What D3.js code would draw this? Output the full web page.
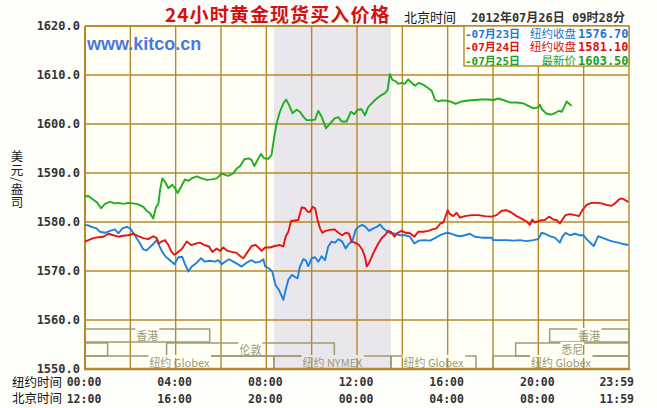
<!DOCTYPE html>
<html><head><meta charset="utf-8">
<script src="https://cdnjs.cloudflare.com/ajax/libs/d3/7.8.5/d3.min.js"></script>
<style>
html,body{margin:0;padding:0;background:#fdfdfa;}
svg{display:block;}
</style></head>
<body>
<svg id="c" width="657" height="408"></svg>
<script>
// ---------------- data ----------------
const titleText = "24小时黄金现货买入价格";
const stampLabel = "北京时间";
const stampText = "2012年07月26日 09时28分";
const yTitleText = "美元/盎司";
const yTicks = [1550, 1560, 1570, 1580, 1590, 1600, 1610, 1620];
const hourTicks = [0, 4, 8, 12, 16, 20, 24];
const nyLabels = ["00:00", "04:00", "08:00", "12:00", "16:00", "20:00", "23:59"];
const bjLabels = ["12:00", "16:00", "20:00", "00:00", "04:00", "08:00", "11:59"];
const legendDates = ["-07月23日", "-07月24日", "-07月25日"];
const legendKinds = ["纽约收盘", "纽约收盘", "最新价"];
const legendValues = ["1576.70", "1581.10", "1603.50"];
const nymexHours = [8.333, 13.5];
// sessions: [row, start hour, end hour, label]
const sessions = [
  [0, 0, 5.5, "香港"], [0, 20.5, 24, "香港"],
  [1, 0, 1, ""], [1, 3.6, 11, "伦敦"], [1, 19, 24, "悉尼"],
  [2, 0, 8.333, "纽约 Globex"], [2, 8.333, 13.5, "纽约 NYMEX"],
  [2, 13.5, 17.25, "纽约 Globex"], [2, 18, 24, "纽约 Globex"]
];

const blue = [[0,1579.4],[0.15,1579.3],[0.29,1579.0],[0.51,1578.7],[0.66,1578.0],[0.88,1577.8],[1.10,1578.2],[1.32,1578.5],[1.47,1577.7],[1.65,1578.7],[1.84,1579.0],[1.99,1578.7],[2.13,1577.8],[2.28,1576.7],[2.43,1575.6],[2.57,1574.4],[2.72,1574.2],[2.87,1574.9],[3.01,1575.5],[3.16,1576.3],[3.26,1575.3],[3.41,1573.9],[3.56,1572.9],[3.75,1572.2],[3.94,1571.4],[4.12,1572.8],[4.29,1572.9],[4.41,1571.4],[4.56,1569.9],[4.71,1570.9],[4.93,1571.7],[5.12,1572.6],[5.29,1571.9],[5.51,1572.1],[5.74,1571.9],[5.88,1572.2],[6.03,1571.4],[6.18,1571.9],[6.35,1572.4],[6.54,1571.9],[6.74,1571.4],[6.91,1570.9],[7.13,1571.7],[7.35,1572.2],[7.53,1571.7],[7.72,1571.9],[7.87,1572.4],[7.94,1571.0],
[8.12,1570.5],[8.26,1569.9],[8.41,1567.1],[8.56,1566.1],[8.75,1564.1],[8.85,1566.1],[8.97,1568.2],[9.12,1569.2],[9.26,1568.8],[9.38,1568.5],[9.48,1570.9],[9.63,1572.4],[9.73,1572.2],[9.85,1571.0],[10.0,1572.6],[10.15,1572.8],[10.29,1571.9],[10.44,1573.0],[10.59,1572.2],[10.73,1575.0],[10.88,1576.0],[11.03,1575.8],[11.18,1576.5],[11.35,1576.0],[11.50,1574.6],[11.65,1575.6],[11.79,1576.0],[11.94,1578.4],[12.06,1579.0],[12.23,1579.4],[12.38,1579.0],[12.53,1578.2],[12.72,1578.7],[12.87,1579.0],[13.01,1579.5],[13.16,1578.7],[13.35,1578.0],[13.50,1577.7],[13.70,1577.6],[13.90,1577.3],[14.12,1577.3],[14.34,1577.0],[14.53,1575.6],[14.73,1576.2],[14.97,1576.3],[15.22,1576.2],[15.44,1576.7],[15.66,1577.3],[15.95,1577.8],
[16.10,1577.7],[16.32,1577.3],[16.54,1577.1],[16.76,1577.3],[16.98,1577.6],[17.20,1577.0],[17.50,1576.8],[17.94,1576.8],[18.01,1576.3],[18.31,1576.3],[18.60,1576.3],[18.89,1576.2],[19.19,1576.3],[19.48,1576.1],[19.78,1576.3],[20.0,1576.5],[20.14,1577.8],[20.29,1577.6],[20.51,1577.1],[20.73,1576.8],[20.95,1575.8],[21.06,1577.0],[21.20,1577.8],[21.39,1577.3],[21.62,1577.6],[21.79,1577.3],[21.98,1577.3],[22.17,1576.3],[22.35,1575.5],[22.45,1575.1],[22.64,1577.1],[22.87,1576.7],[23.09,1576.3],[23.31,1576.0],[23.53,1575.8],[23.75,1575.5],[23.97,1575.3]];

const red = [[0,1576.0],[0.15,1576.3],[0.37,1576.7],[0.59,1576.9],[0.81,1577.0],[1.03,1577.6],[1.25,1577.3],[1.47,1577.0],[1.69,1577.2],[1.91,1577.3],[2.13,1577.6],[2.35,1577.1],[2.57,1576.7],[2.79,1576.5],[3.01,1577.1],[3.16,1576.7],[3.26,1575.6],[3.38,1576.0],[3.53,1576.3],[3.68,1575.3],[3.82,1573.9],[3.94,1573.3],[4.12,1573.9],[4.29,1574.6],[4.49,1576.0],[4.68,1575.3],[4.88,1575.6],[5.07,1575.8],[5.26,1575.3],[5.47,1575.0],[5.62,1573.9],[5.81,1574.6],[5.96,1574.1],[6.10,1574.8],[6.29,1574.1],[6.47,1573.9],[6.69,1573.7],[6.88,1572.9],[6.99,1572.6],[7.13,1573.6],[7.35,1575.1],[7.53,1575.3],[7.65,1574.8],[7.79,1574.1],[7.94,1574.8],
[8.16,1574.8],[8.38,1575.1],[8.60,1575.3],[8.75,1575.0],[8.85,1577.0],[8.97,1578.0],[9.09,1580.2],[9.26,1580.3],[9.41,1580.4],[9.56,1583.0],[9.71,1582.8],[9.82,1582.1],[9.93,1582.1],[10.04,1583.1],[10.15,1582.8],[10.26,1580.4],[10.37,1578.7],[10.47,1577.8],[10.62,1578.2],[10.81,1578.4],[11.0,1578.5],[11.18,1577.8],[11.35,1577.3],[11.50,1577.8],[11.65,1577.6],[11.76,1576.0],[11.91,1575.8],[12.09,1575.3],[12.23,1574.4],[12.35,1572.9],[12.43,1570.9],[12.53,1571.6],[12.65,1572.9],[12.79,1574.3],[12.94,1575.6],[13.09,1576.7],[13.23,1577.3],[13.38,1578.2],[13.50,1578.0],[13.65,1577.0],[13.79,1577.8],[13.97,1578.2],[14.15,1577.8],[14.34,1577.7],[14.53,1577.0],[14.70,1578.0],[14.93,1578.0],[15.15,1578.2],[15.32,1578.5],[15.51,1578.7],[15.66,1579.6],[15.81,1579.9],
[16.0,1582.4],[16.10,1581.6],[16.25,1581.2],[16.39,1581.9],[16.54,1580.9],[16.76,1581.2],[17.06,1581.4],[17.35,1581.4],[17.64,1581.2],[17.94,1581.1],[18.16,1581.4],[18.38,1582.3],[18.60,1582.4],[18.82,1581.9],[19.04,1581.2],[19.26,1580.7],[19.48,1580.1],[19.63,1579.4],[19.73,1580.5],[19.85,1579.9],[20.07,1580.3],[20.29,1580.4],[20.47,1581.1],[20.66,1580.5],[20.81,1580.4],[20.95,1579.7],[21.06,1580.5],[21.20,1581.4],[21.39,1581.6],[21.62,1581.4],[21.79,1581.2],[21.94,1582.4],[22.13,1583.5],[22.35,1583.9],[22.57,1583.9],[22.79,1583.8],[23.01,1583.5],[23.23,1583.3],[23.41,1583.9],[23.56,1584.6],[23.67,1584.8],[23.82,1584.5],[23.97,1584.1]];

const green = [[0,1585.2],[0.15,1585.3],[0.29,1584.8],[0.51,1584.1],[0.71,1582.8],[0.88,1583.7],[1.10,1584.1],[1.32,1583.8],[1.47,1583.9],[1.69,1583.7],[1.91,1583.9],[2.13,1583.8],[2.35,1583.6],[2.57,1583.1],[2.72,1582.3],[2.87,1581.8],[3.01,1580.7],[3.12,1582.8],[3.24,1583.8],[3.31,1586.5],[3.41,1588.9],[3.53,1588.2],[3.68,1586.9],[3.85,1587.6],[3.97,1586.9],[4.09,1585.9],[4.24,1587.2],[4.41,1588.7],[4.56,1588.4],[4.71,1588.9],[4.93,1589.3],[5.15,1588.9],[5.37,1588.6],[5.59,1588.7],[5.81,1588.9],[6.03,1589.9],[6.18,1589.6],[6.32,1589.4],[6.54,1589.9],[6.69,1590.9],[6.84,1591.4],[7.03,1592.8],[7.21,1593.0],[7.35,1592.7],[7.47,1591.4],[7.57,1592.3],[7.76,1593.9],[7.91,1593.0],
[8.09,1592.9],[8.23,1593.7],[8.35,1597.4],[8.45,1600.1],[8.60,1602.5],[8.75,1604.2],[8.87,1605.0],[9.00,1603.9],[9.15,1602.2],[9.34,1602.9],[9.48,1602.5],[9.63,1601.5],[9.78,1600.8],[10.0,1600.8],[10.15,1600.9],[10.29,1602.7],[10.44,1601.5],[10.63,1599.1],[10.81,1600.1],[11.03,1601.2],[11.18,1601.4],[11.32,1600.5],[11.54,1600.5],[11.73,1602.5],[11.88,1602.0],[12.03,1602.9],[12.20,1603.0],[12.35,1601.8],[12.50,1603.5],[12.65,1604.2],[12.82,1605.0],[13.01,1605.7],[13.23,1606.3],[13.35,1606.9],[13.45,1610.2],[13.56,1609.0],[13.68,1608.8],[13.82,1608.2],[13.97,1608.4],[14.12,1608.2],[14.26,1609.1],[14.41,1608.4],[14.56,1607.8],[14.73,1608.4],[14.93,1608.0],[15.15,1607.3],[15.29,1606.8],[15.44,1605.0],[15.59,1604.6],[15.73,1604.8],
[15.88,1604.8],[16.10,1604.6],[16.35,1604.1],[16.62,1604.6],[16.91,1604.8],[17.20,1604.9],[17.50,1605.0],[17.79,1605.0],[18.01,1604.9],[18.23,1605.2],[18.45,1604.9],[18.75,1604.4],[19.04,1604.4],[19.34,1604.2],[19.56,1603.7],[19.78,1603.2],[20.0,1603.4],[20.07,1603.9],[20.17,1602.9],[20.37,1602.1],[20.56,1601.9],[20.73,1602.2],[20.91,1602.7],[21.03,1602.5],[21.14,1603.5],[21.25,1604.6],[21.35,1604.2],[21.47,1603.7]];

const seriesList = [blue, red, green];
const seriesColors = ["#1c80e0", "#e41414", "#1fae1f"];
const legendColors = ["#1a78d2", "#dc1010", "#1c9e1c"];

// ---------------- drawing ----------------
const svg = d3.select("#c");
const L = 85, R = 629, T = 26, B = 369;
const x = d3.scaleLinear().domain([0, 24]).range([L, R]);
const y = d3.scaleLinear().domain([1550, 1620]).range([B, T]);
const gridColor = "#b38a2a";
const sessColor = "#9e9c72";
const mono = "'DejaVu Sans Mono', 'Liberation Mono', monospace";
const cjk = "'Noto Sans CJK SC', 'Noto Sans', sans-serif";

svg.append("rect").attr("width", 657).attr("height", 408).attr("fill", "#fdfdfa");
svg.append("rect").attr("x", L).attr("y", T).attr("width", R - L).attr("height", B - T).attr("fill", "#fffff6");
svg.append("rect").attr("x", x(nymexHours[0])).attr("y", T)
  .attr("width", x(nymexHours[1]) - x(nymexHours[0])).attr("height", B - T).attr("fill", "#e9e6ec");

// grid
svg.append("g").selectAll("line").data(yTicks.filter(v => v > 1550)).join("line")
  .attr("x1", L).attr("x2", R).attr("y1", d => y(d)).attr("y2", d => y(d))
  .attr("stroke", gridColor).attr("stroke-width", 1.4);
const vt = d3.range(0, 25, 2);
svg.append("g").selectAll("line").data(vt).join("line")
  .attr("x1", d => x(d)).attr("x2", d => x(d)).attr("y1", T).attr("y2", B)
  .attr("stroke", gridColor).attr("stroke-width", 1.4);

// sessions
const rowTop = [329, 343, 356], rowH = 13;
const sg = svg.append("g");
sessions.forEach(s => {
  const [row, a, b] = s;
  sg.append("rect").attr("x", x(a)).attr("y", rowTop[row]).attr("width", x(b) - x(a)).attr("height", rowH)
    .attr("fill", "none").attr("stroke", sessColor).attr("stroke-width", 1.5);
});
sessions.forEach(s => {
  const [row, a, b, label] = s;
  if (!label) return;
  const cx = (x(a) + x(b)) / 2;
  const t = sg.append("text").attr("x", cx).attr("y", rowTop[row] + 11).attr("text-anchor", "middle")
    .attr("font-family", cjk).attr("font-size", 11).attr("fill", "#9a9a78").text(label);
  const bb = t.node().getBBox();
  sg.insert("rect", () => t.node()).attr("x", bb.x - 1).attr("y", rowTop[row] - 1).attr("width", bb.width + 2).attr("height", 3)
    .attr("fill", (a < nymexHours[1] && b > nymexHours[0] && row === 2) ? "#e9e6ec" : "#fffff6");
});

// axes borders
svg.append("line").attr("x1", L).attr("x2", L).attr("y1", T).attr("y2", B + 1).attr("stroke", gridColor).attr("stroke-width", 2);
svg.append("line").attr("x1", L - 1).attr("x2", R + 1).attr("y1", B).attr("y2", B).attr("stroke", gridColor).attr("stroke-width", 2.5);
svg.append("line").attr("x1", L).attr("x2", R).attr("y1", T).attr("y2", T).attr("stroke", gridColor).attr("stroke-width", 1.4);

// series
const line = d3.line().x(d => x(d[0])).y(d => y(d[1]));
seriesList.forEach((s, i) => {
  svg.append("path").datum(s).attr("d", line).attr("fill", "none")
    .attr("stroke", seriesColors[i]).attr("stroke-width", 1.9).attr("stroke-linejoin", "round");
});

// y tick labels
svg.append("g").selectAll("text").data(yTicks).join("text")
  .attr("x", 80).attr("y", d => y(d) + 4).attr("text-anchor", "end")
  .attr("font-family", mono).attr("font-weight", "bold").attr("font-size", 12).attr("fill", "#333")
  .text(d => d.toFixed(1));

// y title (vertical)
svg.append("text").attr("x", 17).attr("y", 180).attr("text-anchor", "middle")
  .attr("writing-mode", "tb").attr("glyph-orientation-vertical", 0).attr("letter-spacing", 1)
  .attr("font-family", cjk).attr("font-size", 12.5).attr("fill", "#222").text(yTitleText);

// time labels
svg.append("text").attr("x", 12).attr("y", 387).attr("font-family", cjk).attr("font-size", 12.5).attr("fill", "#111").text("纽约时间");
svg.append("text").attr("x", 12).attr("y", 403).attr("font-family", cjk).attr("font-size", 12.5).attr("fill", "#111").text("北京时间");
[nyLabels, bjLabels].forEach((labs, r) => {
  svg.append("g").selectAll("text").data(hourTicks).join("text")
    .attr("x", (d, i) => i === hourTicks.length - 1 ? x(d) + 5 : x(d) - 1)
    .attr("y", 386 + r * 17)
    .attr("text-anchor", (d, i) => i === hourTicks.length - 1 ? "end" : "middle")
    .attr("font-family", mono).attr("font-weight", "bold").attr("font-size", 11.5).attr("fill", "#333")
    .text((d, i) => labs[i]);
});

// title
svg.append("text").attr("x", 165).attr("y", 22).attr("font-family", cjk).attr("font-weight", "bold")
  .attr("font-size", 19).attr("letter-spacing", 1.1).attr("fill", "#d41010").text(titleText);
svg.append("text").attr("x", 404).attr("y", 22).attr("font-family", cjk).attr("font-size", 13).attr("fill", "#111").text(stampLabel);
svg.append("text").attr("x", 471).attr("y", 22).attr("font-family", mono + ", " + cjk).attr("font-weight", "bold")
  .attr("font-size", 12).attr("fill", "#333").text(stampText);

// kitco
svg.append("text").attr("x", 87).attr("y", 50).attr("font-family", "'Liberation Sans', Arial, sans-serif").attr("font-weight", "bold")
  .attr("font-size", 18).attr("fill", "#4a78e0").text("www.kitco.cn");

// legend
svg.append("rect").attr("x", 464).attr("y", T).attr("width", R - 464).attr("height", 40)
  .attr("fill", "#ffffff").attr("stroke", gridColor).attr("stroke-width", 1.4);
legendDates.forEach((d, i) => {
  const yy = 38 + i * 13.3;
  svg.append("text").attr("x", 465).attr("y", yy).attr("font-family", mono + ", " + cjk).attr("font-weight", "bold")
    .attr("font-size", 11).attr("fill", legendColors[i]).text(d);
  svg.append("text").attr("x", 576).attr("y", yy).attr("text-anchor", "end").attr("font-family", cjk)
    .attr("font-size", 11.5).attr("fill", legendColors[i]).text(legendKinds[i]);
  svg.append("text").attr("x", 578).attr("y", yy).attr("font-family", mono).attr("font-weight", "bold")
    .attr("font-size", 12).attr("fill", legendColors[i]).text(legendValues[i]);
});
</script>
</body></html>
